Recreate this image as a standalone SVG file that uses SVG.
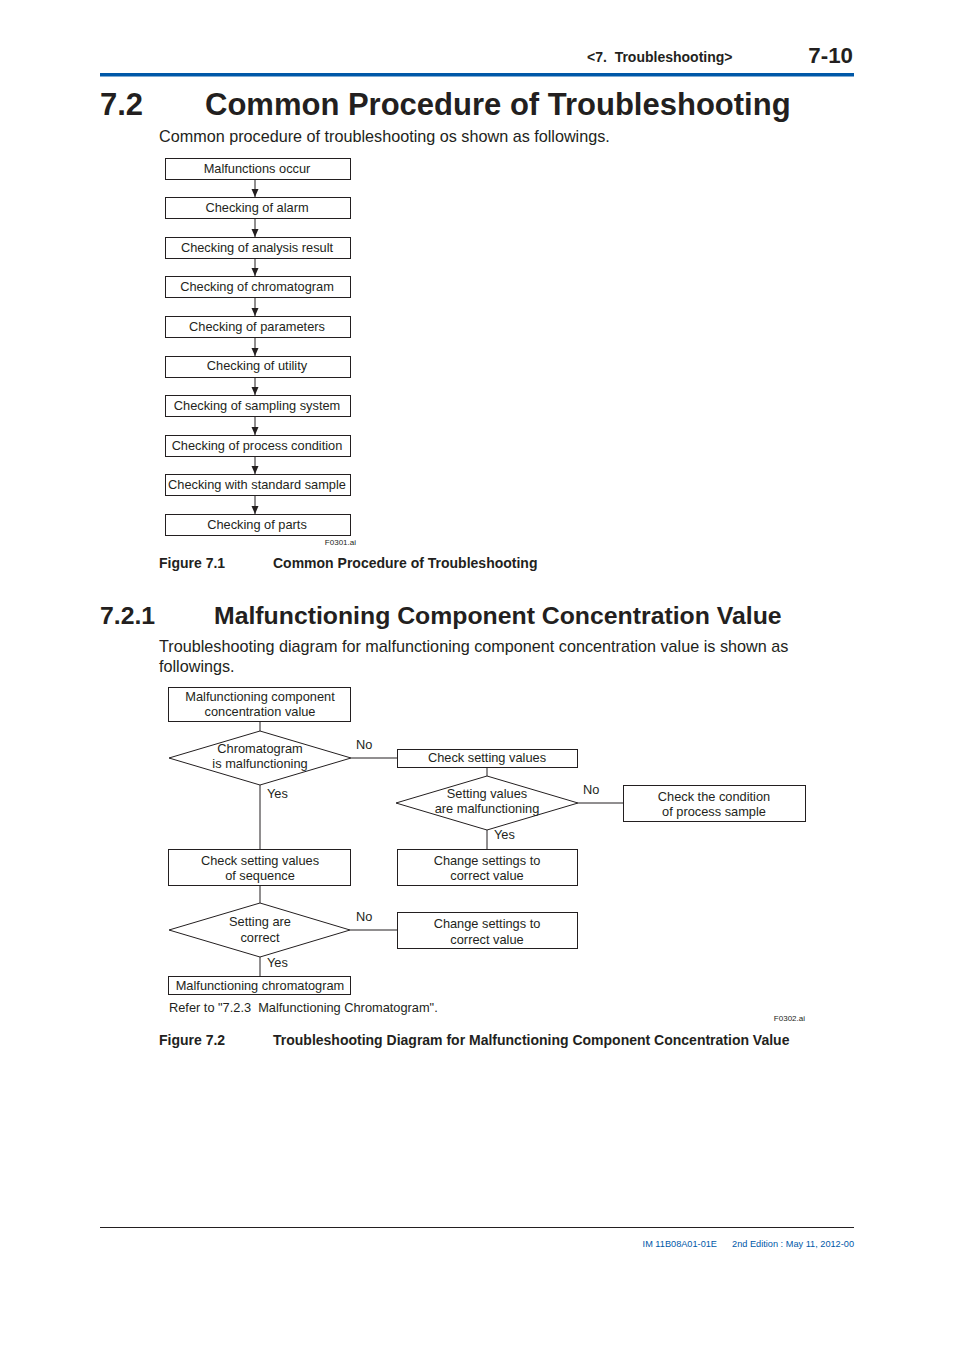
<svg xmlns="http://www.w3.org/2000/svg" width="954" height="1350" viewBox="0 0 954 1350">
<style>
text{font-family:"Liberation Sans",Arial,sans-serif;fill:#231f20;white-space:pre}
.b{fill:#fff;stroke:#231f20;stroke-width:1}
.t{font-size:12.8px;text-anchor:middle}
.l{stroke:#231f20;stroke-width:1;fill:none}
.h{font-weight:bold}
.cap{font-size:14px;font-weight:bold}
.body{font-size:16.2px}
.ft{font-size:9.2px;fill:#0058a8}
</style>
<defs>
<marker id="ar" viewBox="0 0 8 8" refX="8" refY="4" markerWidth="8" markerHeight="8" markerUnits="userSpaceOnUse" orient="auto">
<path d="M0,0.5 L8,4 L0,7.5 z" fill="#231f20"/>
</marker>
</defs>
<rect width="954" height="1350" fill="#fff"/>
<!-- header -->
<text x="587" y="62" class="h" font-size="14" xml:space="preserve">&lt;7.  Troubleshooting&gt;</text>
<text x="853" y="63" class="h" font-size="22.3" text-anchor="end">7-10</text>
<rect x="100" y="73" width="754" height="3.5" fill="#0058a8"/>
<text x="100" y="115" class="h" font-size="31">7.2</text>
<text x="205" y="115" class="h" font-size="31">Common Procedure of Troubleshooting</text>
<text x="159" y="142" class="body">Common procedure of troubleshooting os shown as followings.</text>

<!-- Figure 7.1 connectors -->
<g id="conn1">
<line class="l" x1="255" y1="179" x2="255" y2="197" marker-end="url(#ar)"/>
<line class="l" x1="255" y1="219" x2="255" y2="237" marker-end="url(#ar)"/>
<line class="l" x1="255" y1="258" x2="255" y2="276" marker-end="url(#ar)"/>
<line class="l" x1="255" y1="298" x2="255" y2="316" marker-end="url(#ar)"/>
<line class="l" x1="255" y1="338" x2="255" y2="356" marker-end="url(#ar)"/>
<line class="l" x1="255" y1="377" x2="255" y2="395" marker-end="url(#ar)"/>
<line class="l" x1="255" y1="417" x2="255" y2="435" marker-end="url(#ar)"/>
<line class="l" x1="255" y1="456" x2="255" y2="474" marker-end="url(#ar)"/>
<line class="l" x1="255" y1="496" x2="255" y2="514" marker-end="url(#ar)"/>
</g>
<g id="f1n1"><rect class="b" x="165.5" y="158.5" width="185" height="21"/><text class="t" x="257" y="172.5">Malfunctions occur</text></g>
<g id="f1n2"><rect class="b" x="165.5" y="197.5" width="185" height="21"/><text class="t" x="257" y="212">Checking of alarm</text></g>
<g id="f1n3"><rect class="b" x="165.5" y="237.5" width="185" height="21"/><text class="t" x="257" y="252">Checking of analysis result</text></g>
<g id="f1n4"><rect class="b" x="165.5" y="276.5" width="185" height="21"/><text class="t" x="257" y="291">Checking of chromatogram</text></g>
<g id="f1n5"><rect class="b" x="165.5" y="316.5" width="185" height="21"/><text class="t" x="257" y="331">Checking of parameters</text></g>
<g id="f1n6"><rect class="b" x="165.5" y="356.5" width="185" height="21"/><text class="t" x="257" y="370">Checking of utility</text></g>
<g id="f1n7"><rect class="b" x="165.5" y="395.5" width="185" height="21"/><text class="t" x="257" y="410">Checking of sampling system</text></g>
<g id="f1n8"><rect class="b" x="165.5" y="435.5" width="185" height="21"/><text class="t" x="257" y="450">Checking of process condition</text></g>
<g id="f1n9"><rect class="b" x="165.5" y="474.5" width="185" height="21"/><text class="t" x="257" y="489">Checking with standard sample</text></g>
<g id="f1n10"><rect class="b" x="165.5" y="514.5" width="185" height="21"/><text class="t" x="257" y="529">Checking of parts</text></g>
<text x="356" y="545" font-size="8" text-anchor="end">F0301.ai</text>
<text x="159" y="568" class="cap">Figure 7.1</text>
<text x="273" y="568" class="cap">Common Procedure of Troubleshooting</text>

<text x="100" y="624" class="h" font-size="24.8">7.2.1</text>
<text x="214" y="624" class="h" font-size="24.8">Malfunctioning Component Concentration Value</text>
<text x="159" y="652" class="body">Troubleshooting diagram for malfunctioning component concentration value is shown as</text>
<text x="159" y="672" class="body">followings.</text>

<!-- Figure 7.2 connectors -->
<g id="conn2">
<line class="l" x1="260" y1="721" x2="260" y2="731"/>
<line class="l" x1="351" y1="758" x2="397" y2="758"/>
<line class="l" x1="260" y1="785" x2="260" y2="849"/>
<line class="l" x1="487" y1="767" x2="487" y2="776"/>
<line class="l" x1="578" y1="803" x2="623" y2="803"/>
<line class="l" x1="487" y1="830" x2="487" y2="849"/>
<line class="l" x1="260" y1="885" x2="260" y2="903"/>
<line class="l" x1="350" y1="930" x2="397" y2="930"/>
<line class="l" x1="260" y1="957" x2="260" y2="976"/>
<text x="356" y="749" font-size="12.8">No</text>
<text x="267" y="798" font-size="12.8">Yes</text>
<text x="583" y="794" font-size="12.8">No</text>
<text x="494" y="839" font-size="12.8">Yes</text>
<text x="356" y="921" font-size="12.8">No</text>
<text x="267" y="967" font-size="12.8">Yes</text>
</g>
<g id="f2n1"><rect class="b" x="168.5" y="687.5" width="182" height="34"/><text class="t" x="260" y="701">Malfunctioning component</text><text class="t" x="260" y="716">concentration value</text></g>
<g id="f2d1"><polygon class="b" points="260,731 351,758 260,785 169,758"/><text class="t" x="260" y="753">Chromatogram</text><text class="t" x="260" y="768">is malfunctioning</text></g>
<g id="f2n2"><rect class="b" x="397.5" y="749.5" width="180" height="18"/><text class="t" x="487" y="762">Check setting values</text></g>
<g id="f2d2"><polygon class="b" points="487,776 578,803 487,830 396,803"/><text class="t" x="487" y="798">Setting values</text><text class="t" x="487" y="813">are malfunctioning</text></g>
<g id="f2n3"><rect class="b" x="623.5" y="785.5" width="182" height="36"/><text class="t" x="714" y="801">Check the condition</text><text class="t" x="714" y="816">of process sample</text></g>
<g id="f2n4"><rect class="b" x="168.5" y="849.5" width="182" height="36"/><text class="t" x="260" y="865">Check setting values</text><text class="t" x="260" y="880">of sequence</text></g>
<g id="f2n5"><rect class="b" x="397.5" y="849.5" width="180" height="36"/><text class="t" x="487" y="865">Change settings to</text><text class="t" x="487" y="880">correct value</text></g>
<g id="f2d3"><polygon class="b" points="260,903 350,930 260,957 169,930"/><text class="t" x="260" y="926">Setting are</text><text class="t" x="260" y="942">correct</text></g>
<g id="f2n6"><rect class="b" x="397.5" y="912.5" width="180" height="36"/><text class="t" x="487" y="928">Change settings to</text><text class="t" x="487" y="944">correct value</text></g>
<g id="f2n7"><rect class="b" x="168.5" y="976.5" width="182" height="18"/><text class="t" x="260" y="990">Malfunctioning chromatogram</text></g>
<text x="169" y="1012" font-size="12.8" xml:space="preserve">Refer to "7.2.3  Malfunctioning Chromatogram".</text>
<text x="805" y="1021" font-size="8" text-anchor="end">F0302.ai</text>
<text x="159" y="1045" class="cap">Figure 7.2</text>
<text x="273" y="1045" class="cap">Troubleshooting Diagram for Malfunctioning Component Concentration Value</text>

<!-- footer -->
<line x1="100" y1="1227.5" x2="854" y2="1227.5" stroke="#231f20" stroke-width="1"/>
<text x="717" y="1247" class="ft" text-anchor="end">IM 11B08A01-01E</text>
<text x="854" y="1247" class="ft" text-anchor="end">2nd Edition : May 11, 2012-00</text>
</svg>
